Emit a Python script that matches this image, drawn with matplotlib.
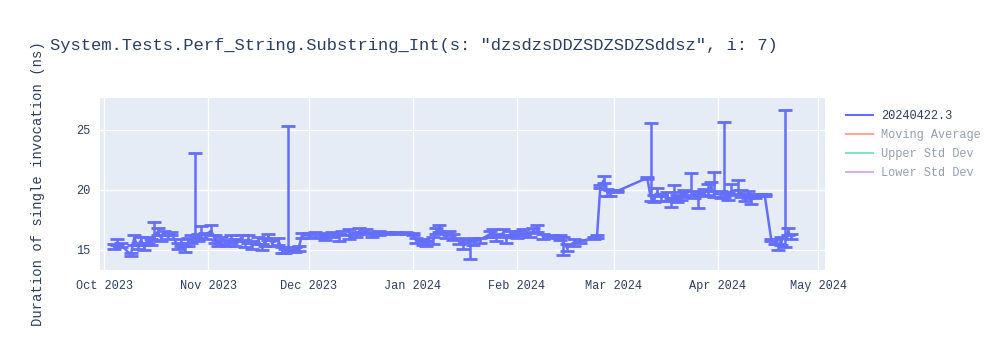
import numpy as np
import pandas as pd
import matplotlib
matplotlib.use("Agg")
import matplotlib.pyplot as plt
import matplotlib.dates as mdates
from matplotlib.lines import Line2D

plt.rcParams['font.family'] = ['Liberation Mono', 'DejaVu Sans Mono']

title = 'System.Tests.Perf_String.Substring_Int(s: "dzsdzsDDZSDZSDZSddsz", i: 7)'
ylabel = "Duration of single invocation (ns)"
legend_names = ["20240422.3", "Moving Average", "Upper Std Dev", "Lower Std Dev"]
legend_colors = ["#636efa", "#EF553B", "#00cc96", "#ab63fa"]

dates = [
    "2023-10-04", "2023-10-05", "2023-10-06", "2023-10-09", "2023-10-10", "2023-10-11",
    "2023-10-12", "2023-10-13", "2023-10-14", "2023-10-15", "2023-10-16", "2023-10-17",
    "2023-10-18", "2023-10-19", "2023-10-20", "2023-10-21", "2023-10-23", "2023-10-24",
    "2023-10-25", "2023-10-26", "2023-10-27", "2023-10-28", "2023-10-29", "2023-10-30",
    "2023-10-31", "2023-11-02", "2023-11-03", "2023-11-04", "2023-11-05", "2023-11-07",
    "2023-11-08", "2023-11-09", "2023-11-11", "2023-11-12", "2023-11-13", "2023-11-14",
    "2023-11-16", "2023-11-17", "2023-11-18", "2023-11-19", "2023-11-20", "2023-11-22",
    "2023-11-23", "2023-11-24", "2023-11-25", "2023-11-27", "2023-11-28", "2023-11-29",
    "2023-12-01", "2023-12-03", "2023-12-05", "2023-12-06", "2023-12-08", "2023-12-10",
    "2023-12-11", "2023-12-13", "2023-12-15", "2023-12-16", "2023-12-18", "2023-12-20",
    "2023-12-22", "2023-12-25", "2023-12-27", "2023-12-30", "2024-01-01", "2024-01-02",
    "2024-01-04", "2024-01-05", "2024-01-07", "2024-01-08", "2024-01-09", "2024-01-11",
    "2024-01-12", "2024-01-13", "2024-01-15", "2024-01-16", "2024-01-18", "2024-01-19",
    "2024-01-21", "2024-01-24", "2024-01-25", "2024-01-26", "2024-01-28", "2024-01-29",
    "2024-01-30", "2024-02-01", "2024-02-02", "2024-02-03", "2024-02-05", "2024-02-06",
    "2024-02-07", "2024-02-09", "2024-02-12", "2024-02-14", "2024-02-15", "2024-02-16",
    "2024-02-18", "2024-02-20", "2024-02-24", "2024-02-25", "2024-02-26", "2024-02-27",
    "2024-02-28", "2024-02-29", "2024-03-02", "2024-03-11", "2024-03-12", "2024-03-13",
    "2024-03-14", "2024-03-15", "2024-03-17", "2024-03-18", "2024-03-19", "2024-03-20",
    "2024-03-21", "2024-03-22", "2024-03-24", "2024-03-25", "2024-03-26", "2024-03-28",
    "2024-03-29", "2024-03-30", "2024-03-31", "2024-04-02", "2024-04-03", "2024-04-04",
    "2024-04-05", "2024-04-07", "2024-04-08", "2024-04-09", "2024-04-10", "2024-04-11",
    "2024-04-12", "2024-04-14", "2024-04-15", "2024-04-17", "2024-04-18", "2024-04-19",
    "2024-04-20", "2024-04-21", "2024-04-22", "2024-04-23",
]
values = [
    15.3, 15.6, 15.4, 14.6, 16.0, 15.3, 15.8, 15.2, 15.9, 15.6, 16.1, 16.5,
    16.0, 16.4, 16.1, 16.4, 15.3, 15.6, 15.1, 15.6, 15.9, 16.2, 16.0, 16.3,
    16.2, 16.6, 15.9, 15.5, 15.8, 15.5, 15.9, 15.6, 16.0, 15.5, 15.9, 15.4,
    15.8, 15.2, 15.7, 16.1, 15.6, 15.8, 15.0, 14.9, 15.1, 15.0, 15.1, 16.2,
    16.2, 16.3, 16.2, 16.1, 16.3, 16.0, 16.4, 16.2, 16.3, 16.5, 16.5, 16.3,
    16.4, 16.4, 16.4, 16.4, 16.3, 15.8, 15.6, 15.5, 15.8, 16.5, 16.8, 16.3,
    16.4, 16.1, 15.8, 15.5, 15.6, 15.7, 15.8, 16.3, 16.5, 16.0, 16.4, 15.9,
    16.3, 16.2, 16.4, 16.5, 16.3, 16.6, 16.8, 16.1, 16.1, 16.0, 15.6, 15.2,
    15.6, 15.7, 16.0, 16.1, 20.3, 20.8, 19.8, 19.7, 19.9, 21.0, 19.4, 19.2,
    19.8, 19.4, 19.5, 19.0, 19.5, 19.3, 19.5, 19.7, 19.9, 19.6, 19.5, 19.8,
    19.9, 20.2, 19.7, 19.6, 19.7, 19.5, 19.9, 20.0, 19.7, 19.4, 19.6, 19.3,
    19.5, 19.6, 19.6, 15.8, 15.7, 15.3, 15.8, 16.0, 16.5, 16.1,
]
err_up = [
    0.2, 0.3, 0.2, 0.1, 0.2, 0.3, 0.3, 0.2, 0.2, 0.3, 1.2, 0.3,
    0.2, 0.2, 0.3, 0.1, 0.3, 0.3, 0.2, 0.4, 0.3, 6.9, 0.3, 0.7,
    0.2, 0.5, 0.3, 0.3, 0.3, 0.3, 0.3, 0.3, 0.2, 0.3, 0.3, 0.3,
    0.3, 0.3, 0.3, 0.2, 0.3, 0.2, 0.2, 0.2, 10.2, 0.2, 0.2, 0.2,
    0.2, 0.2, 0.2, 0.2, 0.2, 0.3, 0.2, 0.5, 0.2, 0.3, 0.2, 0.2,
    0.2, 0.1, 0.1, 0.1, 0.1, 0.2, 0.3, 0.2, 0.3, 0.3, 0.3, 0.2,
    0.2, 0.2, 0.2, 0.3, 0.3, 0.3, 0.2, 0.3, 0.2, 0.3, 0.3, 0.2,
    0.3, 0.2, 0.2, 0.2, 0.2, 0.2, 0.3, 0.2, 0.1, 0.2, 0.5, 0.3,
    0.3, 0.1, 0.1, 0.1, 0.1, 0.4, 0.3, 0.3, 0.1, 0.1, 6.2, 0.4,
    0.4, 0.3, 0.3, 0.3, 0.9, 0.3, 0.3, 0.3, 1.5, 0.3, 0.3, 0.3,
    0.6, 0.5, 1.8, 0.3, 6.0, 0.3, 0.6, 0.8, 0.3, 0.3, 0.3, 0.3,
    0.2, 0.1, 0.1, 0.1, 0.2, 0.2, 0.3, 10.7, 0.3, 0.2,
]
err_down = [
    0.2, 0.2, 0.2, 0.1, 0.6, 0.2, 0.4, 0.2, 0.3, 0.2, 0.3, 0.3,
    0.3, 0.2, 0.2, 0.2, 0.2, 0.3, 0.3, 0.3, 0.3, 0.3, 0.3, 0.3,
    0.3, 0.4, 0.3, 0.2, 0.3, 0.2, 0.3, 0.3, 0.3, 0.3, 0.3, 0.3,
    0.3, 0.2, 0.4, 0.3, 0.3, 0.4, 0.3, 0.2, 0.2, 0.2, 0.2, 0.2,
    0.2, 0.2, 0.2, 0.3, 0.2, 0.3, 0.2, 0.3, 0.2, 0.2, 0.2, 0.2,
    0.2, 0.1, 0.1, 0.1, 0.1, 0.2, 0.2, 0.2, 0.3, 0.2, 0.3, 0.3,
    0.2, 0.3, 0.3, 0.4, 1.4, 0.3, 0.2, 0.2, 0.4, 0.3, 0.2, 0.3,
    0.2, 0.2, 0.2, 0.3, 0.2, 0.2, 0.3, 0.2, 0.1, 0.2, 1.0, 0.3,
    0.3, 0.1, 0.1, 0.1, 0.1, 0.2, 0.3, 0.2, 0.1, 0.1, 0.3, 0.2,
    0.3, 0.3, 0.4, 0.4, 0.3, 0.3, 0.3, 0.3, 0.3, 0.3, 1.0, 0.3,
    0.3, 0.3, 0.3, 0.3, 0.3, 0.3, 0.3, 0.3, 0.3, 0.3, 0.3, 0.5,
    0.2, 0.1, 0.1, 0.1, 0.2, 0.3, 0.4, 0.8, 0.3, 0.2,
]

x = pd.to_datetime(dates)
textcol = "#2a3f5f"

fig = plt.figure(figsize=(10, 3.5), dpi=100)
ax = fig.add_axes([0.100, 0.229, 0.725, 0.491])
ax.set_facecolor("#E5ECF6")
for s in ax.spines.values():
    s.set_visible(False)

ax.errorbar(x, values, yerr=[err_down, err_up], color="#636efa", lw=1.8,
            elinewidth=1.8, capsize=5, capthick=2, zorder=3)

ax.set_xlim(pd.Timestamp("2023-09-29 19:00"), pd.Timestamp("2024-05-03"))
ax.set_ylim(13.33, 27.67)
ax.set_yticks([15, 20, 25])
ax.xaxis.set_major_locator(mdates.MonthLocator())
ax.xaxis.set_major_formatter(mdates.DateFormatter("%b %Y"))
ax.grid(True, color="white", lw=1)
ax.set_axisbelow(True)
ax.tick_params(length=0, labelsize=8.6, labelcolor=textcol, pad=7)
ax.set_ylabel(ylabel, fontsize=10, color=textcol, labelpad=22)

fig.text(0.05, 0.87, title, fontsize=12.3, color=textcol, va="center")

handles = []
for i, (n, c) in enumerate(zip(legend_names, legend_colors)):
    a = 1.0 if i == 0 else 0.5
    handles.append(Line2D([], [], color=c, lw=1.5, alpha=a, label=n))
leg = ax.legend(handles=handles, loc="upper left", bbox_to_anchor=(0.846, 0.686),
                bbox_transform=fig.transFigure, frameon=False, fontsize=8.6,
                handlelength=2.3, handletextpad=0.6, labelspacing=0.58,
                borderpad=0, borderaxespad=0)
for i, t in enumerate(leg.get_texts()):
    t.set_color(textcol)
    t.set_alpha(1.0 if i == 0 else 0.5)

fig.savefig("out.png", dpi=100)
